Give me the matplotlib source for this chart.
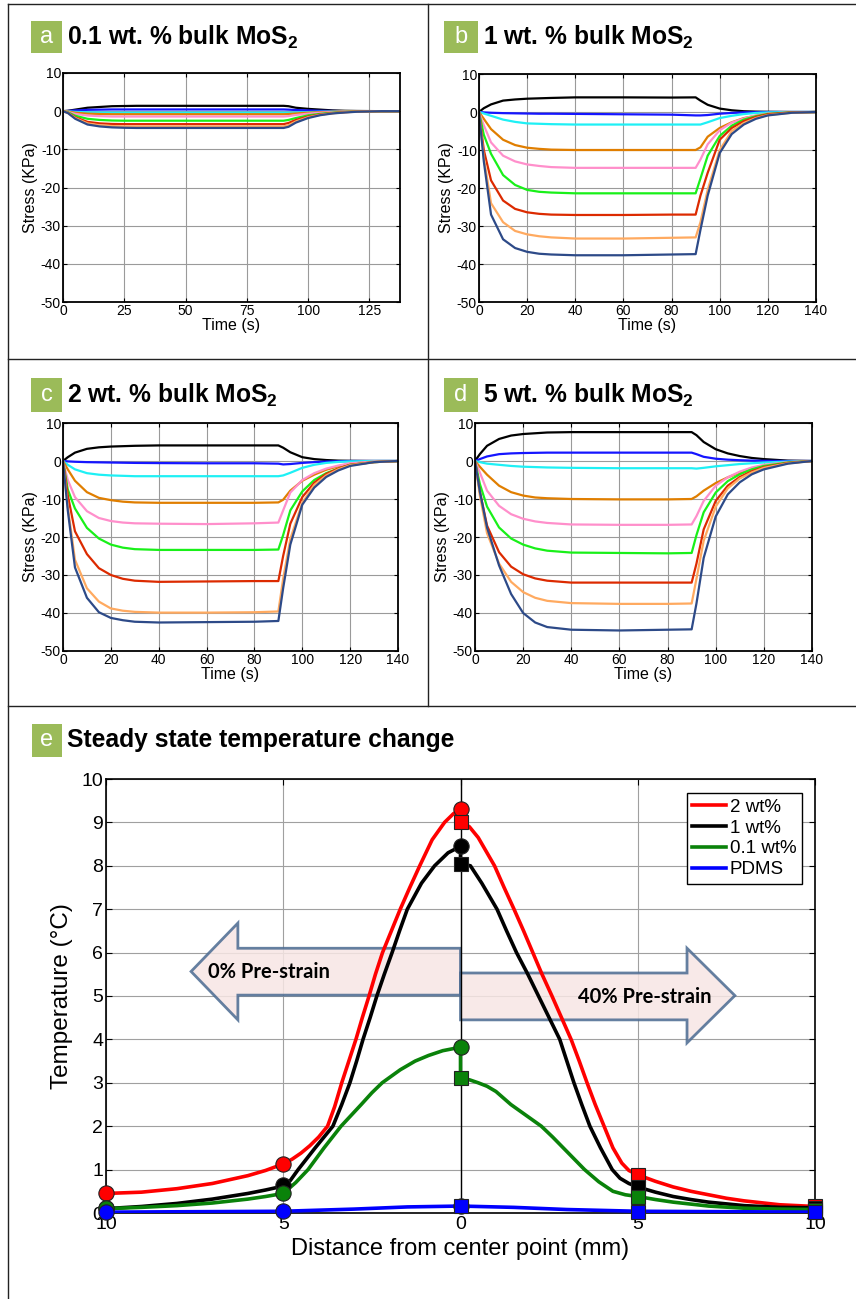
import numpy as np
import matplotlib
matplotlib.use('Agg')
import matplotlib.pyplot as plt
from matplotlib.patches import Rectangle, Polygon
from matplotlib.lines import Line2D

plt.rcParams['font.family'] = ['Liberation Sans', 'DejaVu Sans']
plt.rcParams['mathtext.fontset'] = 'custom'
plt.rcParams['mathtext.rm'] = 'Liberation Sans'
plt.rcParams['mathtext.bf'] = 'Liberation Sans:bold'
plt.rcParams['axes.unicode_minus'] = False

# ---- stress relaxation data (panels a-d) ----
t_s = [0, 2, 5, 10, 15, 20, 25, 30, 40, 60, 80, 90, 92, 95, 100, 105, 110, 115, 120, 130, 140]
curve_colors = ['#000000', '#1515ff', '#1ef0f5', '#e07e00', '#ff8fcb',
                '#19f019', '#dc2a00', '#ffaa60', '#2d4a88']

stress_a = [
    [0, 0.1, 0.4, 0.9, 1.1, 1.3, 1.35, 1.4, 1.4, 1.4, 1.4, 1.4, 1.3, 0.9, 0.6, 0.4, 0.2, 0.1, 0.05, 0, 0],
    [0, 0.05, 0.2, 0.35, 0.4, 0.45, 0.45, 0.45, 0.45, 0.45, 0.45, 0.45, 0.4, 0.3, 0.2, 0.1, 0.05, 0, 0, 0, 0],
    [0, -0.05, -0.2, -0.3, -0.35, -0.4, -0.4, -0.4, -0.4, -0.4, -0.4, -0.4, -0.4, -0.35, -0.25, -0.15, -0.1, -0.05, 0, 0, 0],
    [0, -0.1, -0.4, -0.65, -0.75, -0.8, -0.8, -0.8, -0.8, -0.8, -0.8, -0.8, -0.75, -0.6, -0.4, -0.25, -0.15, -0.08, -0.03, 0, 0],
    [0, -0.2, -0.7, -1.15, -1.3, -1.4, -1.4, -1.4, -1.4, -1.4, -1.4, -1.4, -1.3, -1.0, -0.65, -0.4, -0.25, -0.12, -0.05, 0, 0],
    [0, -0.3, -1.2, -2.0, -2.3, -2.45, -2.5, -2.5, -2.5, -2.5, -2.5, -2.5, -2.3, -1.8, -1.1, -0.7, -0.4, -0.2, -0.1, 0, 0],
    [0, -0.4, -1.6, -2.8, -3.2, -3.35, -3.4, -3.4, -3.4, -3.4, -3.4, -3.4, -3.1, -2.3, -1.4, -0.85, -0.5, -0.25, -0.1, 0, 0],
    [0, -0.45, -1.8, -3.2, -3.7, -3.9, -4.0, -4.0, -4.0, -4.0, -4.0, -4.0, -3.7, -2.7, -1.6, -0.95, -0.55, -0.3, -0.12, 0, 0],
    [0, -0.5, -2.0, -3.5, -4.0, -4.25, -4.35, -4.4, -4.4, -4.4, -4.4, -4.4, -4.1, -3.0, -1.8, -1.05, -0.6, -0.35, -0.15, 0, 0],
]
stress_b = [
    [0, 1.0, 2.0, 3.0, 3.3, 3.5, 3.6, 3.7, 3.85, 3.85, 3.8, 3.85, 3.0, 1.9, 0.9, 0.45, 0.2, 0.1, 0.05, 0, 0],
    [0, -0.1, -0.2, -0.3, -0.35, -0.4, -0.45, -0.45, -0.5, -0.6, -0.7, -0.9, -0.9, -0.8, -0.45, -0.25, -0.1, -0.05, 0, 0, 0],
    [0, -0.4, -1.0, -2.0, -2.6, -3.0, -3.1, -3.2, -3.3, -3.3, -3.3, -3.3, -3.3, -2.7, -1.6, -1.0, -0.55, -0.25, -0.1, 0, 0],
    [0, -1.8, -4.5, -7.3, -8.7, -9.4, -9.7, -9.9, -10.0, -10.0, -10.0, -10.0, -9.3, -6.5, -4.2, -2.7, -1.6, -1.0, -0.5, -0.1, 0],
    [0, -3.5, -8.0, -11.5, -13.0, -13.8, -14.2, -14.5, -14.7, -14.7, -14.7, -14.7, -12.5, -8.5, -4.8, -2.8, -1.7, -0.9, -0.4, -0.1, 0],
    [0, -6, -11, -16.6, -19.2, -20.5, -21.0, -21.2, -21.4, -21.4, -21.4, -21.4, -17.5, -11.5, -6.3, -3.6, -2.0, -1.1, -0.5, -0.1, 0],
    [0, -10, -18, -23.3, -25.5, -26.4, -26.8, -27.0, -27.1, -27.1, -27.0, -27.0, -22, -16, -7.3, -4.2, -2.4, -1.3, -0.6, -0.1, 0],
    [0, -12, -24, -29, -31.3, -32.2, -32.7, -33.0, -33.3, -33.3, -33.1, -33.0, -29, -20.5, -10, -5.0, -2.9, -1.6, -0.8, -0.2, 0],
    [0, -13, -27, -33.5, -35.8, -36.8, -37.3, -37.5, -37.7, -37.7, -37.5, -37.4, -31, -22, -10.8, -5.8, -3.3, -1.8, -0.9, -0.2, 0],
]
stress_c = [
    [0, 1.0, 2.2, 3.2, 3.6, 3.8, 3.9, 4.0, 4.1, 4.1, 4.1, 4.1, 3.5, 2.3, 1.0, 0.5, 0.25, 0.1, 0.05, 0, 0],
    [0, -0.1, -0.2, -0.3, -0.35, -0.4, -0.45, -0.5, -0.55, -0.6, -0.6, -0.7, -0.9, -0.8, -0.5, -0.3, -0.15, -0.05, 0, 0, 0],
    [0, -1.0, -2.2, -3.2, -3.6, -3.8, -3.9, -4.0, -4.0, -4.0, -4.0, -4.0, -3.8, -3.1, -1.8, -1.0, -0.5, -0.25, -0.1, 0, 0],
    [0, -2.2, -5.2, -8.2, -9.7, -10.3, -10.7, -10.9, -11.0, -11.0, -11.0, -10.9, -10.2, -7.8, -5.2, -3.6, -2.3, -1.4, -0.7, -0.2, 0],
    [0, -5, -9.5, -13.2, -15.0, -15.8, -16.2, -16.4, -16.5, -16.6, -16.4, -16.2, -13, -8.3, -5.0, -3.2, -2.0, -1.2, -0.6, -0.15, 0],
    [0, -7.5, -12.5, -17.6, -20.4, -22.0, -22.8, -23.2, -23.4, -23.4, -23.4, -23.3, -19.5, -13.0, -8.0, -5.0, -3.2, -2.0, -1.0, -0.3, 0],
    [0, -9, -18.5, -24.5, -28.2, -30.0, -31.0, -31.5, -31.8, -31.7, -31.6, -31.6, -25, -16.5, -9.5, -5.7, -3.4, -2.0, -1.0, -0.3, 0],
    [0, -12, -26, -33.5, -37, -38.8, -39.4, -39.7, -39.9, -39.9, -39.8, -39.6, -31, -20.5, -11, -6.3, -3.8, -2.2, -1.1, -0.3, 0],
    [0, -13, -28, -36, -39.8, -41.3, -41.9, -42.3, -42.5, -42.4, -42.3, -42.1, -33.5, -22, -11.5, -7.0, -4.2, -2.5, -1.3, -0.3, 0],
]
stress_d = [
    [0, 1.8, 4.0, 5.8, 6.7, 7.1, 7.3, 7.5, 7.6, 7.6, 7.6, 7.6, 6.8, 5.0, 3.1, 2.0, 1.3, 0.8, 0.5, 0.1, 0],
    [0, 0.5, 1.2, 1.8, 2.0, 2.1, 2.15, 2.2, 2.2, 2.2, 2.2, 2.2, 1.8, 1.1, 0.6, 0.35, 0.2, 0.1, 0.05, 0, 0],
    [0, -0.3, -0.7, -1.0, -1.3, -1.5, -1.6, -1.7, -1.8, -1.9, -1.9, -1.9, -2.0, -1.8, -1.4, -1.1, -0.8, -0.6, -0.4, -0.15, 0],
    [0, -1.5, -3.6, -6.5, -8.2, -9.1, -9.6, -9.8, -10.0, -10.1, -10.1, -10.0, -9.3, -7.8, -5.8, -4.3, -3.1, -2.1, -1.3, -0.4, 0],
    [0, -3.0, -7.8, -11.8, -14.0, -15.2, -15.9, -16.3, -16.7, -16.8, -16.8, -16.7, -14.5, -10.5, -6.5, -4.3, -2.8, -1.7, -1.0, -0.3, 0],
    [0, -6, -12, -17.5, -20.4, -22.0, -23.0, -23.6, -24.1, -24.2, -24.3, -24.2, -19.5, -13.5, -8.3, -5.3, -3.5, -2.2, -1.3, -0.4, 0],
    [0, -8, -17, -24.0, -27.8, -29.8, -30.9, -31.5, -32.0, -32.0, -32.0, -32.0, -27, -18, -10.5, -6.5, -4.2, -2.7, -1.6, -0.5, 0],
    [0, -9, -19, -27, -31.8, -34.5, -36.0, -36.8, -37.4, -37.6, -37.6, -37.5, -31, -21, -12, -7.2, -4.6, -3.0, -1.8, -0.6, 0],
    [0, -8, -17.5, -27.5, -35, -40, -42.5, -43.7, -44.4, -44.6, -44.4, -44.3, -37.5, -25.5, -14.6, -8.8, -5.6, -3.5, -2.2, -0.7, 0],
]
panel_titles = [r'0.1 wt. % bulk MoS$_\mathbf{2}$', r'1 wt. % bulk MoS$_\mathbf{2}$',
                r'2 wt. % bulk MoS$_\mathbf{2}$', r'5 wt. % bulk MoS$_\mathbf{2}$']

# ---- steady state temperature (panel e) ----
e_labels = ['2 wt%', '1 wt%', '0.1 wt%', 'PDMS']
e_colors = ['#ff0000', '#000000', '#0a820a', '#0000ff']
# fitted curves: left half (0% pre-strain) ends at x=0, right half (40%) starts at x=0
red_x = [-10, -9, -8, -7, -6, -5.5, -5, -4.75, -4.5, -4.25, -4, -3.75, -3.55, -3.35, -3.15, -2.95,
         -2.77, -2.58, -2.4, -2.2, -1.95, -1.7, -1.43, -1.15, -0.8, -0.45, -0.2, 0,
         0, 0.25, 0.5, 0.96, 1.23, 1.51, 1.78, 2.04, 2.3, 2.58, 2.85, 3.12, 3.35, 3.57, 3.8,
         4.05, 4.3, 4.55, 4.75, 5, 5.5, 6, 6.5, 7, 7.5, 8, 9, 10]
red_y = [0.45, 0.48, 0.56, 0.68, 0.86, 0.98, 1.13, 1.24, 1.38, 1.55, 1.75, 2.0, 2.45, 3.0, 3.5, 4.0,
         4.5, 5.0, 5.5, 6.0, 6.5, 7.0, 7.5, 8.0, 8.6, 9.0, 9.2, 9.3,
         9.02, 8.9, 8.65, 8.0, 7.5, 7.0, 6.5, 6.0, 5.5, 5.0, 4.5, 4.0, 3.5, 3.0, 2.5,
         2.0, 1.5, 1.15, 0.98, 0.88, 0.73, 0.6, 0.5, 0.42, 0.34, 0.28, 0.19, 0.15]
black_x = [-10, -9, -8, -7, -6, -5.5, -5, -4.8, -4.58, -4.1, -3.6, -3.35, -3.12, -2.93, -2.75, -2.55,
           -2.36, -2.15, -1.93, -1.72, -1.5, -1.1, -0.73, -0.35, 0,
           0, 0.28, 0.6, 1.03, 1.3, 1.58, 1.9, 2.2, 2.5, 2.8, 3.0, 3.2, 3.42, 3.65, 3.95, 4.28,
           4.5, 4.75, 5, 5.5, 6, 6.5, 7, 8, 9, 10]
black_y = [0.1, 0.15, 0.22, 0.32, 0.45, 0.53, 0.62, 0.75, 1.0, 1.5, 2.0, 2.5, 3.0, 3.5, 4.0, 4.5,
           5.0, 5.5, 6.0, 6.5, 7.0, 7.6, 8.0, 8.3, 8.45,
           8.05, 8.0, 7.6, 7.0, 6.5, 6.0, 5.5, 5.0, 4.5, 4.0, 3.5, 3.0, 2.5, 2.0, 1.5, 1.0,
           0.8, 0.68, 0.6, 0.48, 0.38, 0.31, 0.25, 0.17, 0.13, 0.12]
green_x = [-10, -9, -8, -7, -6, -5.5, -5, -4.65, -4.3, -3.85, -3.37, -2.8, -2.5, -2.21, -1.7, -1.28,
           -0.9, -0.5, 0,
           0, 0.25, 0.5, 0.75, 1.0, 1.42, 1.85, 2.28, 2.6, 2.9, 3.2, 3.5, 3.9, 4.3, 4.65, 5,
           5.5, 6, 7, 8, 9, 10]
green_y = [0.1, 0.13, 0.17, 0.23, 0.32, 0.38, 0.45, 0.7, 1.0, 1.5, 2.0, 2.5, 2.77, 3.0, 3.3, 3.5,
           3.63, 3.74, 3.82,
           3.1, 3.07, 3.0, 2.92, 2.8, 2.5, 2.25, 2.0, 1.75, 1.5, 1.25, 1.0, 0.72, 0.5, 0.42, 0.38,
           0.31, 0.25, 0.16, 0.11, 0.09, 0.08]
blue_x = [-10, -7.5, -5, -3, -1.5, 0, 1.5, 3, 5, 7.5, 10]
blue_y = [0.02, 0.03, 0.04, 0.09, 0.14, 0.16, 0.13, 0.08, 0.04, 0.03, 0.02]
# measured points: circles at -10, -5, 0 (0%), squares at 0, 5, 10 (40%)
pt_left_x = [-10, -5, 0]
pt_right_x = [0, 5, 10]
red_pts_left = [0.45, 1.13, 9.3]
red_pts_right = [9.02, 0.88, 0.15]
black_pts_left = [0.12, 0.64, 8.45]
black_pts_right = [8.05, 0.6, 0.12]
green_pts_left = [0.12, 0.45, 3.82]
green_pts_right = [3.1, 0.38, 0.07]
blue_pts_left = [0.02, 0.04, 0.16]
blue_pts_right = [0.15, 0.03, 0.03]

W, H = 856, 1299
fig = plt.figure(figsize=(W / 100, H / 100), dpi=100)


def fx(x):
    return x / W


def fy(y):
    return 1 - y / H


def ax_rect(left, top, right, bottom):
    return [fx(left), fy(bottom), (right - left) / W, (bottom - top) / H]


# frame lines between panels
for (x0, y0, x1, y1) in [(8, 4, 856, 4), (8, 359, 856, 359), (8, 706, 856, 706),
                         (8, 4, 8, 1299), (428, 4, 428, 706)]:
    fig.add_artist(Line2D([fx(x0), fx(x1)], [fy(y0), fy(y1)], transform=fig.transFigure,
                          color='#222222', lw=1.0))


def panel_tag(letter, left, top, right, bottom, title, fs=17.7):
    fig.patches.append(Rectangle((fx(left), fy(bottom)), (right - left) / W, (bottom - top) / H,
                                 transform=fig.transFigure, facecolor='#9bbb59', edgecolor='none'))
    yc = fy((top + bottom) / 2)
    fig.text(fx((left + right) / 2), yc, letter, color='white', fontsize=17,
             ha='center', va='center')
    fig.text(fx(right + 5), yc, title, fontsize=fs, fontweight='bold', ha='left', va='center')


stress_sets = [stress_a, stress_b, stress_c, stress_d]
rects = [(63, 73, 400, 302), (479, 74, 816, 302), (63, 423, 398, 651), (475, 423, 812, 651)]
tags = [('a', 31, 21, 62, 53), ('b', 444, 21, 478, 53), ('c', 31, 378, 62, 412), ('d', 444, 378, 478, 412)]

for i in range(4):
    ax = fig.add_axes(ax_rect(*rects[i]))
    for vals, col in zip(stress_sets[i], curve_colors):
        ax.plot(t_s, vals, color=col, lw=1.6, solid_joinstyle='round')
    if i == 0:
        ax.set_xlim(0, 137.5)
        ax.set_xticks([0, 25, 50, 75, 100, 125])
    else:
        ax.set_xlim(0, 140)
        ax.set_xticks(range(0, 141, 20))
    ax.set_ylim(-50, 10)
    ax.set_yticks(range(-50, 11, 10))
    ax.grid(True, color='#9a9a9a', lw=0.8)
    ax.tick_params(direction='in', length=3, top=True, right=True, labelsize=10, pad=1.5)
    for sp in ax.spines.values():
        sp.set_linewidth(1.3)
    ax.set_xlabel('Time (s)', fontsize=11.5, labelpad=0)
    ax.set_ylabel('Stress (KPa)', fontsize=11.5, labelpad=2)
    panel_tag(*tags[i], panel_titles[i])

# ---- panel e ----
panel_tag('e', 32, 724, 62, 757, 'Steady state temperature change')
ax = fig.add_axes(ax_rect(106, 779, 815, 1213))
ax.set_xlim(-10, 10)
ax.set_ylim(0, 10)
ax.set_xticks([-10, -5, 0, 5, 10])
ax.set_xticklabels(['10', '5', '0', '5', '10'])
ax.set_yticks(range(0, 11))
ax.grid(True, color='#a0a0a0', lw=0.8)
ax.axvline(0, color='black', lw=1.0, zorder=2.5)
ax.tick_params(direction='in', length=4, top=True, right=True, labelsize=14, pad=2)
for sp in ax.spines.values():
    sp.set_linewidth(1.2)

# pre-strain arrows
arrow_kw = dict(closed=True, facecolor='#f7e6e4', edgecolor='#4a6a91', lw=2.0, alpha=0.85, zorder=2)
ax.add_patch(Polygon([(0, 6.1), (-6.28, 6.1), (-6.28, 6.68), (-7.6, 5.565), (-6.28, 4.45),
                      (-6.28, 5.02), (0, 5.02)], **arrow_kw))
ax.add_patch(Polygon([(0, 5.53), (6.39, 5.53), (6.39, 6.1), (7.74, 5.01), (6.39, 3.92),
                      (6.39, 4.45), (0, 4.45)], **arrow_kw))
ax.text(-5.4, 5.56, '0% Pre-strain', fontsize=14.5, fontweight='bold', family=['Lato', 'DejaVu Sans'],
        ha='center', va='center', zorder=5)
ax.text(5.2, 4.98, '40% Pre-strain', fontsize=14.5, fontweight='bold', family=['Lato', 'DejaVu Sans'],
        ha='center', va='center', zorder=5)

curves = [(red_x, red_y), (black_x, black_y), (green_x, green_y), (blue_x, blue_y)]
pts_l = [red_pts_left, black_pts_left, green_pts_left, blue_pts_left]
pts_r = [red_pts_right, black_pts_right, green_pts_right, blue_pts_right]
handles = []
for (cx, cy), col, lab in zip(curves, e_colors, e_labels):
    h, = ax.plot(cx, cy, color=col, lw=2.6, zorder=3, label=lab, solid_joinstyle='round')
    handles.append(h)
for pl, pr, col in zip(pts_l, pts_r, e_colors):
    ax.plot(pt_left_x, pl, 'o', ms=11, mfc=col, mec='#222222', mew=0.8, zorder=6, clip_on=False)
    ax.plot(pt_right_x, pr, 's', ms=9.5, mfc=col, mec='#222222', mew=0.8, zorder=6, clip_on=False)

leg = ax.legend(handles=handles, loc='upper right', bbox_to_anchor=(0.982, 0.968), borderaxespad=0,
                fontsize=13.5, frameon=True, fancybox=False, edgecolor='black', framealpha=1,
                handlelength=1.8, handletextpad=0.2, labelspacing=0.2, borderpad=0.3)
leg.get_frame().set_linewidth(1.0)
leg.set_zorder(10)

ax.set_xlabel('Distance from center point (mm)', fontsize=17, labelpad=4)
ax.set_ylabel('Temperature (°C)', fontsize=17.5, labelpad=6)

fig.savefig('out.png', dpi=100)
